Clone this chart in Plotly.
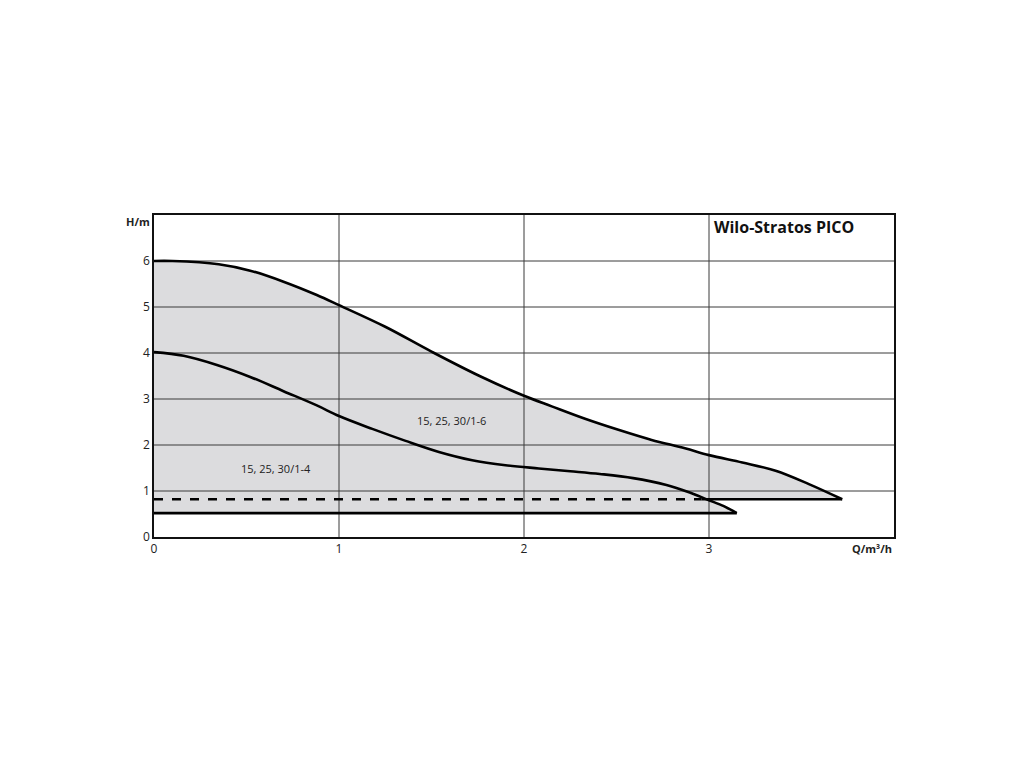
import plotly.graph_objects as go

# Pump curve 15, 25, 30/1-6 (upper)
q_16 = [0.0, 0.1, 0.35, 0.52, 0.7, 0.88, 1.0, 1.25, 1.5, 1.76, 2.0, 2.15, 2.33, 2.51, 2.69, 2.87, 3.0, 3.18, 3.36, 3.54, 3.72]
h_16 = [6.0, 6.0, 5.93, 5.79, 5.55, 5.26, 5.04, 4.57, 4.03, 3.5, 3.07, 2.84, 2.57, 2.33, 2.11, 1.93, 1.78, 1.62, 1.44, 1.15, 0.82]
# Pump curve 15, 25, 30/1-4 (lower)
q_14 = [0.0, 0.16, 0.34, 0.52, 0.7, 0.88, 1.0, 1.18, 1.36, 1.54, 1.72, 1.9, 2.08, 2.25, 2.41, 2.59, 2.77, 2.88, 3.0, 3.08, 3.15]
h_14 = [4.02, 3.94, 3.74, 3.48, 3.17, 2.86, 2.63, 2.35, 2.09, 1.85, 1.67, 1.56, 1.49, 1.43, 1.37, 1.28, 1.13, 0.99, 0.8, 0.67, 0.52]
# Minimum head lines
h_min_16 = 0.82
h_min_14 = 0.52
q_dash_end = 2.96

x_ticks = [0, 1, 2, 3]
y_ticks = [0, 1, 2, 3, 4, 5, 6]
x_grid = [1, 2, 3]
y_grid = [1, 2, 3, 4, 5, 6]
x_range = [0, 4]
y_range = [0, 7]

labels = ["15, 25, 30/1-6", "15, 25, 30/1-4"]
label_q = [1.61, 0.66]
label_h = [2.54, 1.48]

FILL = "#dcdcde"
GRID = "#3a3a3a"
FONT = "Open Sans"
SMOOTH = 1.0

fig = go.Figure()

# filled areas (baseline + curve filled to it)
fig.add_trace(go.Scatter(x=[q_16[0], q_16[-1]], y=[h_min_16, h_min_16], mode="lines",
                         line=dict(width=0), hoverinfo="skip", showlegend=False))
fig.add_trace(go.Scatter(x=q_16, y=h_16, fill="tonexty", fillcolor=FILL, mode="lines",
                         line=dict(width=0, shape="spline", smoothing=SMOOTH), hoverinfo="skip", showlegend=False))
fig.add_trace(go.Scatter(x=[q_14[0], q_14[-1]], y=[h_min_14, h_min_14], mode="lines",
                         line=dict(width=0), hoverinfo="skip", showlegend=False))
fig.add_trace(go.Scatter(x=q_14, y=h_14, fill="tonexty", fillcolor=FILL, mode="lines",
                         line=dict(width=0, shape="spline", smoothing=SMOOTH), hoverinfo="skip", showlegend=False))

# grid lines (above fill, below curves)
for gx in x_grid:
    fig.add_trace(go.Scatter(x=[gx, gx], y=y_range, mode="lines", line=dict(color=GRID, width=1),
                             hoverinfo="skip", showlegend=False))
for gy in y_grid:
    fig.add_trace(go.Scatter(x=x_range, y=[gy, gy], mode="lines", line=dict(color=GRID, width=1),
                             hoverinfo="skip", showlegend=False))

# curves
fig.add_trace(go.Scatter(x=q_16, y=h_16, mode="lines",
                         line=dict(color="black", width=2.6, shape="spline", smoothing=SMOOTH), showlegend=False))
fig.add_trace(go.Scatter(x=[q_dash_end, q_16[-1]], y=[h_min_16, h_min_16], mode="lines",
                         line=dict(color="black", width=2.6), showlegend=False))
fig.add_trace(go.Scatter(x=q_14, y=h_14, mode="lines",
                         line=dict(color="black", width=2.6, shape="spline", smoothing=SMOOTH), showlegend=False))
fig.add_trace(go.Scatter(x=[q_14[0], q_14[-1]], y=[h_min_14, h_min_14], mode="lines",
                         line=dict(color="black", width=2.6), showlegend=False))
fig.add_trace(go.Scatter(x=[0.0, q_dash_end], y=[h_min_16, h_min_16], mode="lines",
                         line=dict(color="black", width=2.6, dash="dash"), showlegend=False))

for t, qx, hy in zip(labels, label_q, label_h):
    fig.add_annotation(x=qx, y=hy, text=t, showarrow=False, xref="x", yref="y",
                       font=dict(family=FONT, size=11, color="#222"))

fig.add_annotation(x=3.015, y=6.74, text="<b>Wilo-Stratos PICO</b>", showarrow=False, xref="x", yref="y",
                   xanchor="left", yanchor="middle", font=dict(family=FONT, size=16, color="#111"))

fig.add_annotation(x=0, y=1, xref="paper", yref="paper", text="<b>H/m</b>", showarrow=False,
                   xanchor="right", yanchor="middle", xshift=-2, yshift=-6,
                   font=dict(family=FONT, size=11, color="#222"))
fig.add_annotation(x=1, y=0, xref="paper", yref="paper", text="<b>Q/m³/h</b>", showarrow=False,
                   xanchor="right", yanchor="top", yshift=-2,
                   font=dict(family=FONT, size=11, color="#222"))

fig.update_xaxes(range=x_range, tickvals=x_ticks, showgrid=False, zeroline=False,
                 showline=True, mirror=True, linecolor="#111", linewidth=1.5, ticks="",
                 tickfont=dict(family=FONT, size=12, color="#222"))
fig.update_yaxes(range=y_range, tickvals=y_ticks, showgrid=False, zeroline=False,
                 showline=True, mirror=True, linecolor="#111", linewidth=1.5, ticks="",
                 tickfont=dict(family=FONT, size=12, color="#222"))

fig.update_layout(width=1008, height=752, plot_bgcolor="white", paper_bgcolor="white",
                  margin=dict(l=146, r=122, t=207, b=223), showlegend=False)

fig.write_html("out.html")
